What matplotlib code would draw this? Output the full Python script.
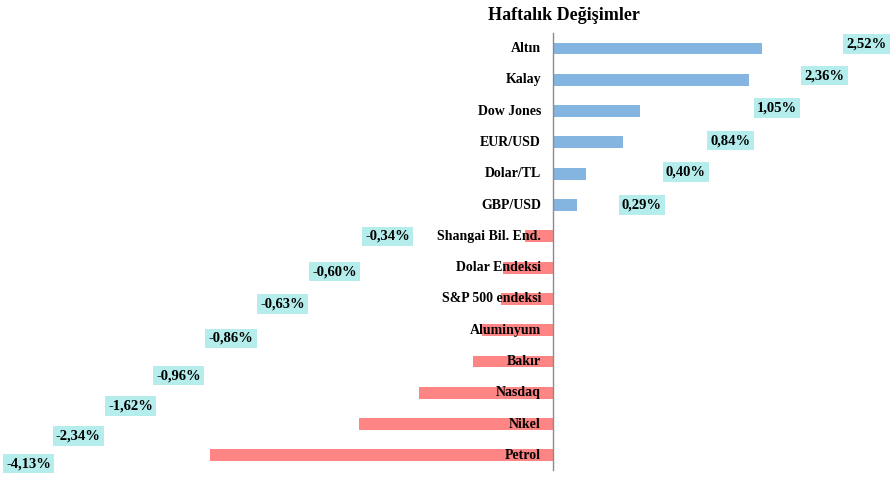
import matplotlib.pyplot as plt

categories = ["Altın", "Kalay", "Dow Jones", "EUR/USD", "Dolar/TL", "GBP/USD",
              "Shangai Bil. End.", "Dolar Endeksi", "S&P 500 endeksi", "Aluminyum",
              "Bakır", "Nasdaq", "Nikel", "Petrol"]
values = [2.52, 2.36, 1.05, 0.84, 0.40, 0.29,
          -0.34, -0.60, -0.63, -0.86, -0.96, -1.62, -2.34, -4.13]

# manual placement of the value boxes (data units / row offsets), as in the original
label_x = [3.78, 3.27, 2.70, 2.14, 1.60, 1.07,
           -1.99, -2.63, -3.26, -3.88, -4.51, -5.09, -5.72, -6.32]
label_dy = [-0.14, -0.13, -0.10, -0.06, -0.06, 0.0,
            0.0, 0.13, 0.16, 0.26, 0.45, 0.42, 0.38, 0.26]

blue = "#83B5E0"
red = "#FF8585"
box = "#B5ECEC"
serif = ["Liberation Serif", "DejaVu Serif"]

fig = plt.figure(figsize=(8.96, 4.8), dpi=100)
ax = fig.add_axes([0, 0, 1, 1])

rows = list(range(len(categories)))
colors = [blue if v >= 0 else red for v in values]
ax.barh(rows, values, height=0.38, color=colors, zorder=2)

ax.set_xlim(-553 / 83, 343 / 83)
ax.set_ylim((480 - 48.5) / 31.3, -48.5 / 31.3)
ax.axis("off")

# zero axis line
ax.plot([0, 0], [(33 - 48.5) / 31.3, (470 - 48.5) / 31.3], color="#8c8c8c", lw=1, zorder=3)

for r, name in zip(rows, categories):
    ax.annotate(name, xy=(0, r), xytext=(-12, 0), textcoords="offset pixels",
                ha="right", va="center", fontsize=10, fontweight="bold",
                family=serif, zorder=4)

for r, v, lx, dy in zip(rows, values, label_x, label_dy):
    txt = f"{v:.2f}".replace(".", ",") + "%"
    ax.text(lx, r + dy, txt, ha="center", va="center", fontsize=10.5,
            fontweight="bold", family=serif, zorder=5,
            bbox=dict(boxstyle="square,pad=0.22", facecolor=box, edgecolor="none"))

fig.text(564 / 896, 1 - 15 / 480, "Haftalık Değişimler", ha="center", va="center",
         fontsize=13, fontweight="bold", family=serif)

fig.savefig("out.png", dpi=100)
